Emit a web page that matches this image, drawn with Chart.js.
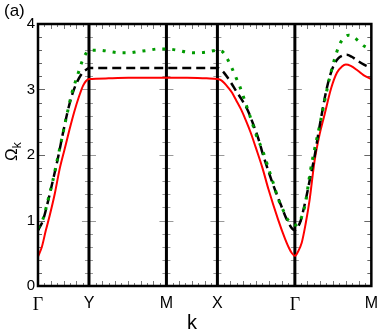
<!DOCTYPE html>
<html>
<head>
<meta charset="utf-8">
<script src="https://cdn.jsdelivr.net/npm/chart.js@4.4.1/dist/chart.umd.min.js"></script>
<style>
html,body{margin:0;padding:0;background:#fff;}
canvas{display:block;}
</style>
</head>
<body>
<canvas id="c" width="386" height="333"></canvas>
<script>
// High-symmetry points along the k path (arbitrary path-length units)
const kTicks = [0, 52, 131, 183, 262, 340];
const kLabels = ['Γ', 'Y', 'M', 'X', 'Γ', 'M'];
const yTicks = [0, 1, 2, 3, 4];

// Red solid
const redK = [0,4,8,12,17,22,27,32,37,42,46,49,52,72,92,112,131,152,172,183,187,190,194,198,202,207,212,217,222,229,235,245,252,256,259,262,265,269,273,277,282,287,292,299,305,310,314,319,326,332,340];
const redOmega = [0.45,0.60,0.85,1.08,1.40,1.78,2.08,2.38,2.66,2.90,3.06,3.13,3.16,3.17,3.18,3.18,3.18,3.18,3.17,3.16,3.14,3.10,3.03,2.95,2.84,2.70,2.53,2.34,2.12,1.80,1.48,1.01,0.72,0.58,0.50,0.46,0.52,0.66,0.95,1.31,1.90,2.30,2.60,3.02,3.26,3.35,3.38,3.36,3.29,3.22,3.16];

// Black dashed
const blackK = [0,5,10,15,20,25,30,35,40,45,49,52,92,131,183,186,189,193,197,202,208,214,220,225,229,234,239,244,249,253,256,259,262,265,268,271,274,278,282,286,290,294,298,302,306,311,315,320,325,330,335,340];
const blackOmega = [0.85,1.00,1.28,1.60,1.93,2.30,2.65,2.93,3.12,3.25,3.30,3.33,3.33,3.33,3.33,3.31,3.27,3.19,3.10,2.98,2.84,2.68,2.45,2.24,2.03,1.80,1.58,1.38,1.19,1.04,0.95,0.88,0.85,0.90,1.00,1.18,1.38,1.68,1.97,2.33,2.67,2.98,3.22,3.38,3.47,3.52,3.53,3.50,3.45,3.40,3.36,3.33].slice(0,52);

// Green dotted
const greenK = [0,5,10,15,20,25,30,35,40,45,49,53,63,73,83,93,103,113,123,131,142,152,162,172,183,188,193,198,202,206,212,217,222,230,235,240,245,250,254,258,262,266,272,278,282,287,292,297,302,308,313,317,322,327,333,340];
const greenOmega = [0.88,1.02,1.30,1.60,1.95,2.30,2.65,2.97,3.20,3.43,3.55,3.60,3.60,3.58,3.56,3.56,3.58,3.60,3.62,3.62,3.60,3.57,3.56,3.57,3.60,3.58,3.47,3.32,3.18,3.04,2.78,2.56,2.33,2.03,1.80,1.57,1.33,1.16,1.03,0.97,0.93,0.97,1.21,1.77,2.08,2.43,2.80,3.15,3.44,3.70,3.80,3.83,3.80,3.74,3.66,3.62];

const pts = (ks, vs) => ks.map((k, i) => ({x: k, y: vs[i]}));

const decor = {
  id: 'decor',
  beforeDatasetsDraw(chart) {
    const {ctx, chartArea: {left, right, top, bottom}, scales: {x, y}} = chart;
    ctx.save();
    // x minor ticks (top and bottom)
    const n = 52, step = (kTicks[kTicks.length - 1] - kTicks[0]) / n;
    ctx.strokeStyle = '#777';
    ctx.lineWidth = 1;
    for (let i = 1; i < n; i++) {
      const px = Math.round(x.getPixelForValue(i * step)) + 0.5;
      const len = i % 2 === 0 ? 5 : 3;
      ctx.beginPath();
      ctx.moveTo(px, bottom); ctx.lineTo(px, bottom - len);
      ctx.moveTo(px, top); ctx.lineTo(px, top + len);
      ctx.stroke();
    }
    // y ticks on the frame and on the inner lines
    for (let v = 0; v <= 4.0001; v += 0.2) {
      const py = Math.round(y.getPixelForValue(v)) + 0.5;
      const major = Math.abs(v - Math.round(v)) < 1e-6;
      const len = major ? 7 : 4;
      ctx.strokeStyle = '#666';
      ctx.beginPath();
      ctx.moveTo(left, py); ctx.lineTo(left + len, py);
      ctx.moveTo(right, py); ctx.lineTo(right - len, py);
      ctx.stroke();
      ctx.strokeStyle = '#999';
      for (let j = 1; j < kTicks.length - 1; j++) {
        const px = x.getPixelForValue(kTicks[j]);
        ctx.beginPath();
        ctx.moveTo(px - len, py); ctx.lineTo(px + len, py);
        ctx.stroke();
      }
    }
    // inner vertical lines
    ctx.strokeStyle = '#000';
    ctx.lineWidth = 3;
    for (let j = 1; j < kTicks.length - 1; j++) {
      const px = x.getPixelForValue(kTicks[j]);
      ctx.beginPath();
      ctx.moveTo(px, top); ctx.lineTo(px, bottom);
      ctx.stroke();
    }
    ctx.restore();
  },
  afterDraw(chart) {
    const {ctx, chartArea: {left, right, top, bottom}, scales: {x}} = chart;
    ctx.save();
    ctx.strokeStyle = '#000';
    ctx.lineWidth = 2.5;
    ctx.strokeRect(left, top, right - left, bottom - top);
    ctx.fillStyle = '#000';
    // panel label
    ctx.font = '17px "Liberation Sans", Arial, sans-serif';
    ctx.textBaseline = 'top';
    ctx.textAlign = 'left';
    ctx.fillText('(a)', 4, 3);
    // x title
    ctx.font = '20px "Liberation Sans", Arial, sans-serif';
    ctx.textAlign = 'center';
    ctx.textBaseline = 'alphabetic';
    ctx.fillText('k', (x.getPixelForValue(kTicks[2]) + x.getPixelForValue(kTicks[3])) / 2, 329);
    // y title  Ω_k (rotated)
    ctx.translate(17, 151);
    ctx.rotate(-Math.PI / 2);
    ctx.textAlign = 'left';
    ctx.font = '17px "Liberation Sans", Arial, sans-serif';
    const w = ctx.measureText('Ω').width;
    ctx.fillText('Ω', -10, 0);
    ctx.font = '12px "Liberation Sans", Arial, sans-serif';
    ctx.fillText('k', -10 + w, 4);
    ctx.restore();
  }
};

new Chart(document.getElementById('c'), {
  type: 'line',
  data: {
    datasets: [
      {data: pts(greenK, greenOmega), borderColor: '#009a00', borderWidth: 3, borderDash: [3, 7], pointRadius: 0, fill: false, cubicInterpolationMode: 'monotone'},
      {data: pts(blackK, blackOmega), borderColor: '#000', borderWidth: 2.5, borderDash: [9, 5], pointRadius: 0, fill: false, cubicInterpolationMode: 'monotone'},
      {data: pts(redK, redOmega), borderColor: '#ff0000', borderWidth: 2, pointRadius: 0, fill: false, cubicInterpolationMode: 'monotone'}
    ]
  },
  options: {
    responsive: false,
    animation: false,
    devicePixelRatio: 1,
    layout: {padding: {top: 24, right: 8, left: 0, bottom: 0}},
    plugins: {legend: {display: false}, tooltip: {enabled: false}},
    scales: {
      x: {
        type: 'linear', min: kTicks[0], max: kTicks[kTicks.length - 1],
        afterBuildTicks: s => { s.ticks = kTicks.map(v => ({value: v})); },
        afterFit: s => { s.height = 47; },
        grid: {display: false, drawTicks: false},
        border: {display: false},
        ticks: {
          autoSkip: false, maxRotation: 0, padding: 8, color: '#000',
          callback: (v, i) => kLabels[i],
          font: c => (c.tick && kLabels[c.index] === 'Γ')
            ? {family: '"Liberation Serif", "DejaVu Serif", serif', size: 18}
            : {family: '"Liberation Sans", Arial, sans-serif', size: 16}
        }
      },
      y: {
        min: 0, max: 4,
        afterBuildTicks: s => { s.ticks = yTicks.map(v => ({value: v})); },
        afterFit: s => { s.width = 38; },
        grid: {display: false, drawTicks: false},
        border: {display: false},
        ticks: {padding: 3, color: '#000', font: {family: '"Liberation Sans", Arial, sans-serif', size: 15}}
      }
    }
  },
  plugins: [decor]
});
</script>
</body>
</html>
